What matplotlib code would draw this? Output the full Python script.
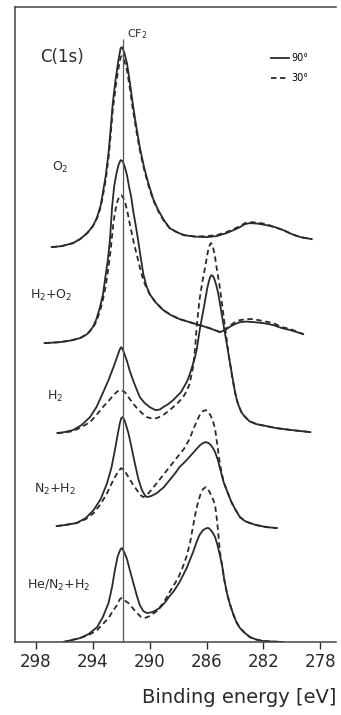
import matplotlib
matplotlib.use('Agg')
import matplotlib.pyplot as plt

# C(1s) spectra, binding energy [eV] vs intensity (arb. units, stacked)
o2_e = [296.9, 296.2, 295.4, 294.9, 294.4, 294.0, 293.7, 293.45, 293.3, 293.1, 292.9, 292.75,
        292.6, 292.4, 292.2, 292.05, 291.95, 291.8, 291.6, 291.4, 291.2, 290.95, 290.7, 290.4,
        290.1, 289.75, 289.4, 289.0, 288.6, 288.1, 287.6, 286.8, 286.0, 285.3, 284.6, 284.1,
        283.65, 283.3, 282.95, 282.4, 281.8, 281.2, 280.6, 280.0, 279.4, 278.6]
o2_90 = [395, 396, 399, 403, 409, 416, 425, 437, 449, 466, 489, 513,
         539, 563, 582, 594, 595, 590, 579, 560, 539, 516, 495, 475,
         459, 443, 432, 422, 414, 410, 407, 405.5, 405, 406, 409, 412,
         415, 418, 419, 418.5, 417, 415, 412, 408, 405, 403]
o2_30 = [395, 396, 399, 403, 409, 416, 424, 435, 446, 462, 484, 507,
         532, 555, 574, 585, 586, 582, 572, 554, 534, 512, 492, 473,
         457, 442, 431, 421, 414, 410, 407, 405.5, 406, 407, 410, 413,
         416, 419, 420, 419.5, 418, 415, 412, 408, 405, 403]

h2o2_e90 = [297.4, 296.8, 296.3, 295.6, 294.9, 294.4, 294.0, 293.75, 293.5, 293.3, 293.15, 292.95,
            292.8, 292.65, 292.5, 292.35, 292.2, 292.05, 291.9, 291.75, 291.6, 291.45, 291.3, 291.15,
            291.0, 290.85, 290.65, 290.45, 290.25, 290.0, 289.6, 289.05, 288.5, 287.9, 287.2, 286.5,
            285.8, 285.06, 284.7, 284.4, 284.0, 283.65, 283.2, 282.7, 282.0, 281.3, 280.7, 280.1, 279.2]
h2o2_90 = [299, 299.5, 300, 301.5, 304, 308, 315, 323, 335, 347, 362, 382,
           402, 435, 456, 468, 477, 482, 481, 475, 467, 455, 445, 430,
           418, 405, 386, 368, 357, 348, 340, 332, 327, 323, 320, 317,
           314, 310, 312, 315, 318, 320, 320.5, 320, 319, 317, 314, 312, 308]
h2o2_e30 = [297.4, 296.8, 296.3, 295.6, 294.9, 294.4, 294.0, 293.75, 293.5, 293.3, 293.1, 292.9,
            292.75, 292.55, 292.4, 292.25, 292.1, 292.0, 291.85, 291.7, 291.55, 291.4, 291.25, 291.1,
            290.85, 290.65, 290.45, 290.25, 290.0, 289.6, 289.05, 288.5, 287.9, 287.2, 286.5, 285.8,
            285.06, 284.7, 284.4, 284.0, 283.65, 283.2, 282.7, 282.0, 281.3, 280.7, 280.1, 279.2]
h2o2_30 = [299, 299.5, 300, 301.5, 304, 308, 314, 321, 331, 342, 356, 375,
           392, 420, 433, 442, 446, 447, 444, 438, 429, 418, 408, 398,
           384, 372, 362, 355, 348, 340, 332, 327, 323, 320, 317, 314,
           310, 313, 316, 320, 322, 323, 323, 321, 319, 315, 313, 308]

h2_e90 = [296.5, 296.0, 295.4, 294.8, 294.2, 293.75, 293.3, 292.9, 292.55, 292.3, 292.1, 292.0,
          291.85, 291.6, 291.4, 291.15, 290.9, 290.7, 290.35, 290.0, 289.6, 289.3, 289.05, 288.7,
          288.35, 287.8, 287.4, 287.2, 287.0, 286.85, 286.7, 286.45, 286.25, 286.1, 285.95, 285.85,
          285.75, 285.65, 285.55, 285.45, 285.3, 285.2, 285.05, 284.9, 284.6, 284.3, 284.0, 283.85,
          283.7, 283.55, 283.4, 283.0, 282.5, 281.8, 281.1, 280.0, 278.7]
h2_90 = [209, 210, 212, 217, 225, 235, 249, 262, 275, 285, 293, 295,
         291, 281, 271, 261, 252, 245, 239, 235, 232, 232.5, 235, 238,
         242, 250, 260, 267, 276, 283, 292, 315, 330, 342, 354, 360,
         365, 367, 366, 363, 356, 350, 338, 325, 300, 275, 250, 241,
         235, 230, 227, 221, 218, 216, 214, 212, 210]
h2_e30 = [296.5, 296.0, 295.4, 294.8, 294.2, 293.75, 293.3, 292.9, 292.55, 292.25, 292.0, 291.75,
          291.5, 291.2, 290.9, 290.55, 290.2, 289.85, 289.5, 289.05, 288.6, 288.1, 287.65, 287.4,
          287.2, 286.95, 286.8, 286.7, 286.5, 286.3, 286.1, 285.95, 285.85, 285.7, 285.6, 285.5,
          285.4, 285.3, 285.1, 284.95, 284.7, 284.45, 284.2, 284.0, 283.85, 283.7, 283.55, 283.4,
          283.0, 282.5, 281.8, 281.1, 280.0, 278.7]
h2_30 = [209, 209.5, 211, 215, 220, 227, 235, 241, 247, 251, 252, 250,
         245, 239, 234, 229, 225, 223.5, 224, 227, 232, 238, 245, 251,
         258, 275, 295, 315, 342, 360, 375, 387, 395, 399, 398, 392,
         385, 375, 358, 342, 315, 288, 265, 250, 241, 235, 230, 227,
         221, 218, 216, 214, 212, 210]

n2h2_e90 = [296.55, 296.0, 295.15, 294.5, 293.95, 293.45, 293.0, 292.7, 292.45, 292.25, 292.1, 292.0,
            291.9, 291.75, 291.5, 291.3, 291.05, 290.8, 290.55, 290.35, 290.2, 289.9, 289.5, 289.0,
            288.6, 288.2, 287.9, 287.4, 286.9, 286.65, 286.45, 286.25, 286.05, 285.85, 285.7, 285.55,
            285.4, 285.2, 285.06, 284.8, 284.5, 284.25, 283.95, 283.65, 283.3, 282.95, 282.5, 281.8, 281.05]
n2h2_90 = [116, 117, 119, 124, 132, 143, 159, 174, 192, 208, 219, 224,
           225, 221, 209, 196, 179, 163, 152, 147, 145, 146, 149, 155,
           162, 169, 175, 182, 190, 194, 197, 199, 200, 199, 197, 194,
           190, 182, 174, 160, 149, 140, 132, 125, 121, 119, 117, 115, 114]
n2h2_e30 = [296.55, 296.0, 295.15, 294.5, 293.95, 293.45, 293.0, 292.7, 292.45, 292.2, 292.0, 291.8,
            291.5, 291.2, 290.9, 290.65, 290.45, 290.2, 289.9, 289.5, 289.0, 288.5, 288.0, 287.6,
            287.2, 286.9, 286.65, 286.45, 286.25, 286.05, 285.85, 285.7, 285.55, 285.41, 285.25, 285.06,
            284.8, 284.5, 284.25, 283.95, 283.65, 283.3, 282.95, 282.5, 281.8, 281.05]
n2h2_30 = [116, 117, 119, 123, 129, 138, 149, 158, 165, 171, 174, 172,
           165, 158, 152, 147, 145, 147, 152, 159, 168, 177, 186, 193,
           203, 214, 222, 228, 231, 232, 230, 226, 221, 214, 198, 178,
           160, 149, 140, 132, 125, 121, 119, 117, 115, 114]

he_e90 = [296.1, 295.5, 294.9, 294.3, 293.7, 293.3, 292.9, 292.65, 292.45, 292.25, 292.05, 291.95,
          291.8, 291.6, 291.4, 291.15, 290.9, 290.7, 290.45, 290.2, 289.8, 289.3, 288.9, 288.6,
          288.3, 287.9, 287.4, 286.95, 286.7, 286.5, 286.25, 286.0, 285.85, 285.7, 285.55, 285.4,
          285.25, 285.06, 284.9, 284.75, 284.55, 284.36, 284.1, 283.9, 283.65, 283.3, 282.95, 282.5,
          282.0, 280.6]
he_90 = [0, 2, 4, 8, 15, 25, 39, 55, 72, 86, 93, 94,
         90, 83, 72, 59, 46, 37, 31, 29, 30, 34, 40, 46,
         51, 60, 74, 90, 100, 107, 112, 114, 114, 112, 109, 105,
         98, 87, 76, 62, 48, 38, 27, 20, 14, 9, 5, 2.5,
         1, 0]
he_e30 = [296.1, 295.5, 294.9, 294.3, 293.7, 293.3, 292.9, 292.6, 292.3, 292.1, 292.0, 291.85,
          291.7, 291.5, 291.2, 290.9, 290.6, 290.35, 290.0, 289.5, 289.0, 288.6, 288.0, 287.7,
          287.4, 287.15, 286.95, 286.75, 286.6, 286.4, 286.25, 286.05, 285.9, 285.75, 285.55, 285.4,
          285.25, 285.06, 284.9, 284.75, 284.55, 284.36, 284.1, 283.9, 283.65, 283.3, 282.95, 282.5,
          282.0, 280.6]
he_30 = [0, 2, 4, 7, 12, 18, 24, 31, 37, 43, 44, 43,
         41, 39, 34, 29, 25, 24, 26, 31, 40, 50, 64, 74,
         86, 100, 116, 131, 140, 149, 153, 155, 153, 149, 143, 137,
         120, 90, 76, 62, 48, 38, 27, 20, 14, 9, 5, 2.5,
         1, 0]

cf2_pos = 291.9
ticks = [298, 294, 290, 286, 282, 278]

spectra = [
    (o2_e, o2_90, o2_e, o2_30, 'O$_2$', 296.3, 475),
    (h2o2_e90, h2o2_90, h2o2_e30, h2o2_30, 'H$_2$+O$_2$', 296.9, 347),
    (h2_e90, h2_90, h2_e30, h2_30, 'H$_2$', 296.66, 246),
    (n2h2_e90, n2h2_90, n2h2_e30, n2h2_30, 'N$_2$+H$_2$', 296.66, 153),
    (he_e90, he_90, he_e30, he_30, 'He/N$_2$+H$_2$', 296.38, 57),
]

col = '#2a2a2a'
fig = plt.figure(figsize=(3.41, 7.15), dpi=100)
ax = fig.add_axes([0.044, 0.102, 0.941, 0.888])

for k, (e90, i90, e30, i30, name, tx, ty) in enumerate(spectra):
    ax.plot(e90, i90, color=col, lw=1.3, solid_joinstyle='round',
            label='90°' if k == 0 else None)
    ax.plot(e30, i30, color=col, lw=1.3, ls=(0, (3, 2)),
            label='30°' if k == 0 else None)
    ax.text(tx, ty, name, fontsize=9, ha='center', va='center', color=col)

ax.vlines(cf2_pos, 0, 603, color='#555555', lw=0.9)
ax.text(291.6, 608, 'CF$_2$', fontsize=8, ha='left', va='center', color=col)
ax.text(296.17, 585, 'C(1s)', fontsize=12, ha='center', va='center', color=col)

ax.set_xlim(299.48, 276.9)
ax.set_ylim(0, 635)
ax.set_xticks(ticks)
ax.set_xticklabels([str(t) for t in ticks])
ax.set_yticks([])
ax.tick_params(axis='x', direction='out', length=5, width=1, labelsize=12, pad=3, colors=col)
for s in ['left', 'top', 'bottom']:
    ax.spines[s].set_color('#444444')
    ax.spines[s].set_linewidth(1.1)
ax.spines['right'].set_visible(False)

ax.legend(loc='upper right', bbox_to_anchor=(0.93, 0.935), frameon=False, fontsize=7,
          handlelength=1.8, handletextpad=0.3, labelspacing=1.0, borderpad=0)

ax.set_xlabel('Binding energy [eV]', loc='right', fontsize=14, labelpad=12, color=col)

fig.savefig('out.png', dpi=100)
